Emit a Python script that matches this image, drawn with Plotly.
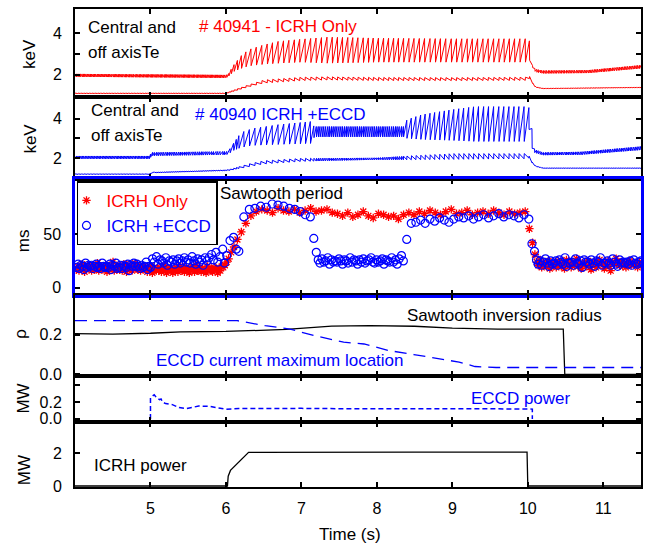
import numpy as np
import plotly.graph_objects as go
from plotly.subplots import make_subplots

FONT = "Liberation Sans, Arial, Helvetica, sans-serif"
RED = "#ff0000"
BLUE = "#0000ff"
BLACK = "#000000"

T_START = 4.0
X_RANGE = [4.0, 11.5]
TIME_TICKS = [5, 6, 7, 8, 9, 10, 11]

# ---- Sawtooth periods (ms) of consecutive crashes from T_START ----
# shot 40941 (ICRH only)
red_period_ms = [
    17, 20, 16, 19, 22, 18, 15, 19, 21, 18,
    19, 16, 21, 17, 18, 23, 16, 18, 20, 17,
    18, 21, 15, 19, 17, 20, 24, 16, 18, 17,
    20, 17, 18, 16, 22, 19, 15, 21, 18, 19,
    16, 19, 23, 18, 17, 20, 16, 19, 18, 19,
    18, 15, 17, 20, 16, 14, 19, 17, 16, 18,
    16, 19, 15, 17, 21, 16, 14, 18, 17, 17,
    17, 14, 18, 16, 19, 15, 17, 20, 16, 18,
    15, 18, 17, 16, 14, 19, 17, 18, 15, 21,
    16, 17, 19, 15, 18, 16, 17, 14, 20, 18,
    17, 16, 15, 19, 18, 17, 14, 18, 16, 20,
    19, 21, 24, 27, 33, 38, 45, 52, 60, 67,
    71, 73, 72, 70, 74, 72, 71, 73, 70, 72, 74, 71, 72, 73, 70,
    69, 67, 70, 66, 68, 71, 67, 65, 69, 68, 66, 67, 64, 68,
    70, 68, 71, 69, 72, 70, 68, 71, 73, 69, 70, 72, 68, 70, 71, 69, 72, 70, 68, 71, 69, 70,
    71, 55, 42, 31,
    24, 21, 26, 19, 23, 22, 20, 25, 18, 22,
    21, 23, 19, 25, 22, 20, 24, 18, 26, 22,
    22, 19, 24, 21, 27, 20, 23, 18, 22, 24,
    20, 25, 22, 17, 23, 24, 19, 21, 26, 23,
    23, 18, 22, 25, 20, 16, 24, 22, 27, 23,
    21, 24, 20, 23, 19, 22, 25, 21, 23, 22,
    22, 19, 24, 21,
]
# shot 40940 (ICRH + ECCD)
blue_period_ms = [
    19, 22, 18, 21, 20, 17, 23, 19, 21, 20,
    21, 18, 20, 22, 19, 20, 18, 23, 20, 19,
    20, 19, 22, 17, 21, 20, 23, 18, 19, 21,
    18, 21, 20, 19, 22, 16, 21, 20, 23, 20,
    22, 20, 18, 21, 19, 20, 24, 17, 20, 19,
    27, 24, 29, 22, 26, 25, 23, 28, 21, 25,
    24, 26, 22, 25, 27, 23, 25, 28, 24, 26,
    23, 29, 25, 22, 27, 24, 26, 21, 28, 25,
    28, 31, 26, 33, 24, 29, 36, 23,
    30, 44, 47, 36, 34, 66, 73,
    74, 76, 75, 78, 77, 76, 74, 73, 71, 68,
    66, 46, 33,
    26, 23, 27, 24, 25, 28, 22, 26, 24, 25,
    24, 27, 25, 22, 26, 25, 23, 28, 24, 26,
    25, 22, 26, 24, 27, 23, 25, 26, 28, 24,
    23, 26, 24, 25, 27, 22, 26, 25, 24, 28,
    24, 26, 22, 27, 30, 25,
    45, 60,
    61, 63, 60, 64, 62, 65, 63, 61, 64, 66, 65, 67, 64, 66, 68, 65, 67, 69, 66, 68, 67, 65, 68,
    64, 41, 34,
    26, 22, 25, 21, 24, 27, 23, 20, 25, 22,
    23, 25, 21, 26, 24, 22, 28, 20, 23, 23,
    24, 21, 27, 23, 22, 25, 19, 26, 24, 24,
    22, 26, 23, 20, 25, 24, 28, 21, 23, 23,
    25, 23, 21, 27, 24, 22, 20, 26, 23, 24,
    23, 24, 22, 25, 21, 26, 23, 22, 24, 25,
]

# ---- Te envelopes (keV): level just before a crash (peak) and just after (trough) ----
te41_core_t = [4.0, 6.0, 6.03, 6.1, 6.2, 6.3, 6.5, 6.7, 7.0, 7.35, 8.0, 9.0, 9.97, 10.02, 10.06, 10.1, 10.2, 10.8, 11.5]
te41_core_peak = [2.04, 1.99, 2.02, 2.45, 2.9, 3.2, 3.43, 3.6, 3.7, 3.8, 3.75, 3.72, 3.72, 3.65, 2.45, 2.27, 2.2, 2.22, 2.46]
te41_core_trough = [1.9, 1.85, 1.92, 2.15, 2.3, 2.42, 2.5, 2.55, 2.6, 2.55, 2.6, 2.6, 2.6, 2.7, 2.35, 2.13, 2.06, 2.08, 2.3]

te41_edge_t = [4.0, 6.0, 6.05, 6.3, 6.5, 7.0, 7.35, 8.0, 9.0, 9.97, 10.02, 10.06, 10.1, 10.2, 11.5]
te41_edge_low = [1.1, 1.1, 1.15, 1.42, 1.6, 1.72, 1.75, 1.72, 1.72, 1.73, 1.82, 1.6, 1.4, 1.33, 1.38]
te41_edge_high = [1.12, 1.12, 1.2, 1.52, 1.75, 1.88, 1.9, 1.87, 1.86, 1.88, 1.92, 1.62, 1.42, 1.35, 1.4]

te40_core_t = [4.0, 4.99, 5.01, 6.0, 6.03, 6.1, 6.2, 6.35, 6.7, 7.12, 7.17, 8.36, 8.4, 8.6, 9.0, 9.3, 9.96, 10.014, 10.055, 10.09, 10.2, 10.7, 11.5]
te40_core_peak = [2.12, 2.12, 2.3, 2.35, 2.35, 2.75, 3.3, 3.5, 3.7, 3.85, 3.6, 3.6, 3.95, 4.2, 4.45, 4.6, 4.6, 4.55, 3.5, 2.45, 2.3, 2.33, 2.6]
te40_core_trough = [1.98, 1.98, 2.13, 2.18, 2.22, 2.4, 2.55, 2.65, 2.7, 2.75, 3.08, 3.08, 3.0, 2.95, 2.9, 2.85, 2.85, 3.45, 2.5, 2.28, 2.16, 2.18, 2.42]

te40_edge_t = [4.0, 4.99, 5.01, 6.0, 6.05, 6.3, 6.5, 7.0, 8.0, 8.4, 9.0, 9.96, 10.02, 10.06, 10.1, 10.2, 11.5]
te40_edge_low = [1.2, 1.2, 1.27, 1.38, 1.4, 1.58, 1.72, 1.85, 1.93, 1.93, 1.95, 1.98, 2.02, 1.75, 1.6, 1.5, 1.5]
te40_edge_high = [1.22, 1.22, 1.3, 1.42, 1.45, 1.72, 1.88, 2.0, 2.03, 2.12, 2.24, 2.24, 2.1, 1.78, 1.62, 1.52, 1.52]

# ---- radial positions (rho) ----
inv_radius_t = [4.0, 4.5, 5.0, 5.4, 6.0, 6.8, 7.4, 7.9, 8.5, 9.0, 9.6, 10.47, 10.49, 11.5]
inv_radius = [0.205, 0.203, 0.207, 0.214, 0.216, 0.226, 0.243, 0.245, 0.242, 0.233, 0.228, 0.228, 0.0, 0.0]

eccd_loc_t = [4.0, 6.15, 6.52, 6.85, 7.17, 7.56, 7.83, 8.16, 8.49, 8.82, 9.09, 9.3, 9.58, 11.5]
eccd_loc = [0.27, 0.27, 0.245, 0.228, 0.195, 0.162, 0.153, 0.12, 0.10, 0.078, 0.062, 0.04, 0.035, 0.035]

# ---- powers (MW) ----
eccd_pow_t = [5.0, 5.0, 5.05, 5.08, 5.12, 5.14, 5.16, 5.2, 5.29, 5.38, 5.47, 5.56, 5.64, 5.78, 5.9, 6.0,
              6.17, 6.5, 7.0, 7.5, 8.0, 8.5, 9.0, 9.5, 10.06, 10.06]
eccd_pow = [0.0, 0.25, 0.285, 0.25, 0.227, 0.235, 0.198, 0.18, 0.168, 0.133, 0.121, 0.14, 0.151, 0.148, 0.133, 0.113,
            0.121, 0.125, 0.124, 0.12, 0.122, 0.121, 0.12, 0.119, 0.115, 0.0]

icrh_t = [4.0, 6.02, 6.03, 6.06, 6.3, 7.3, 7.35, 8.5, 9.99, 10.0, 11.5]
icrh_pow = [0.0, 0.0, 0.6, 0.95, 2.05, 2.06, 2.09, 2.06, 2.06, 0.0, 0.0]


# ---------------- helpers ----------------
def crash_times(periods_ms):
    return T_START + np.cumsum(periods_ms) / 1000.0


def sawtooth_trace(crashes, env_t, lo_env, hi_env, inverted=False, dt=0.003):
    """Polyline: linear ramp between crashes, near-vertical jump at each crash."""
    crashes = crashes[(crashes > X_RANGE[0]) & (crashes < X_RANGE[1])]
    lo = np.interp(crashes, env_t, lo_env)
    hi = np.interp(crashes, env_t, hi_env)
    xs = [X_RANGE[0]]
    ys = [np.interp(X_RANGE[0], env_t, hi_env if inverted else lo_env)]
    for t, a, b in zip(crashes, lo, hi):
        xs += [t, t + dt]
        ys += ([a, b] if inverted else [b, a])
    xs.append(X_RANGE[1])
    ys.append(np.interp(X_RANGE[1], env_t, lo_env if inverted else hi_env))
    return xs, ys


red_crash = crash_times(red_period_ms)
blue_crash = crash_times(blue_period_ms)

# ---------------- figure ----------------
W, H = 651, 548
L, R, TOP, BOT = 75, 8, 7, 61
PW, PH = W - L - R, H - TOP - BOT
edges = [7, 95, 178, 294, 376, 422, 487]  # panel borders in pixels


def fx(px):
    return (px - L) / PW


def fy(py):
    return (H - BOT - py) / PH


fig = make_subplots(rows=6, cols=1, shared_xaxes=True, vertical_spacing=0)

# Panel 1: shot 40941 Te
x, y = sawtooth_trace(red_crash, te41_core_t, te41_core_trough, te41_core_peak)
fig.add_trace(go.Scatter(x=x, y=y, mode="lines", line=dict(color=RED, width=1), showlegend=False), row=1, col=1)
x, y = sawtooth_trace(red_crash, te41_edge_t, te41_edge_low, te41_edge_high, inverted=True)
fig.add_trace(go.Scatter(x=x, y=y, mode="lines", line=dict(color=RED, width=1), showlegend=False), row=1, col=1)

# Panel 2: shot 40940 Te
x, y = sawtooth_trace(blue_crash, te40_core_t, te40_core_trough, te40_core_peak)
fig.add_trace(go.Scatter(x=x, y=y, mode="lines", line=dict(color=BLUE, width=1), showlegend=False), row=2, col=1)
x, y = sawtooth_trace(blue_crash, te40_edge_t, te40_edge_low, te40_edge_high, inverted=True)
fig.add_trace(go.Scatter(x=x, y=y, mode="lines", line=dict(color=BLUE, width=1), showlegend=False), row=2, col=1)

# Panel 3: sawtooth period
fig.add_trace(go.Scatter(x=red_crash, y=red_period_ms, mode="markers",
                         name="<span style='color:#ff0000'>ICRH Only</span>",
                         marker=dict(symbol="asterisk-open", size=7, color=RED, line=dict(color=RED, width=1.3))),
              row=3, col=1)
fig.add_trace(go.Scatter(x=blue_crash, y=blue_period_ms, mode="markers",
                         name="<span style='color:#0000ff'>ICRH +ECCD</span>",
                         marker=dict(symbol="circle-open", size=8, color=BLUE, line=dict(color=BLUE, width=1.2))),
              row=3, col=1)

# Panel 4: rho
fig.add_trace(go.Scatter(x=inv_radius_t, y=inv_radius, mode="lines", line=dict(color=BLACK, width=1.3),
                         showlegend=False), row=4, col=1)
fig.add_trace(go.Scatter(x=eccd_loc_t, y=eccd_loc, mode="lines", line=dict(color=BLUE, width=1.3, dash="12px,7px"),
                         showlegend=False), row=4, col=1)

# Panel 5: ECCD power
fig.add_trace(go.Scatter(x=eccd_pow_t, y=eccd_pow, mode="lines", line=dict(color=BLUE, width=1.5, dash="5px,3px"),
                         showlegend=False), row=5, col=1)

# Panel 6: ICRH power
fig.add_trace(go.Scatter(x=icrh_t, y=icrh_pow, mode="lines", line=dict(color=BLACK, width=1.3),
                         showlegend=False), row=6, col=1)

y_specs = [
    dict(range=[0.952, 5.143], tickvals=[1, 2, 3, 4], ticktext=["", "2", "", "4"]),
    dict(range=[0.95, 5.1], tickvals=[1, 2, 3, 4], ticktext=["", "2", "", "4"]),
    dict(range=[-6.5, 101], tickvals=[0, 50], ticktext=["0", "50"]),
    dict(range=[-0.01, 0.40], tickvals=[0, 0.2], ticktext=["0.0", "0.2"]),
    dict(range=[-0.04, 0.50], tickvals=[0, 0.2, 0.4], ticktext=["0.0", "0.2", ""]),
    dict(range=[-0.06, 3.88], tickvals=[0, 2], ticktext=["0", "2"]),
]

for i in range(6):
    r = i + 1
    lc = BLUE if r == 3 else BLACK
    lw = 2.5 if r == 3 else 2
    fig.update_yaxes(row=r, col=1, domain=[fy(edges[i + 1]), fy(edges[i])],
                     range=y_specs[i]["range"], tickvals=y_specs[i]["tickvals"], ticktext=y_specs[i]["ticktext"],
                     showline=True, linecolor=lc, linewidth=lw, mirror="allticks",
                     ticks="inside", ticklen=5, tickwidth=1.5, tickcolor=BLACK,
                     showgrid=False, zeroline=False, ticklabelstandoff=8,
                     tickfont=dict(family=FONT, size=16, color=BLACK))
    fig.update_xaxes(row=r, col=1, range=X_RANGE, tickvals=TIME_TICKS,
                     showline=True, linecolor=lc, linewidth=lw, mirror="allticks",
                     ticks="inside", ticklen=5, tickwidth=1.5, tickcolor=BLACK,
                     showgrid=False, zeroline=False, showticklabels=(r == 6),
                     tickfont=dict(family=FONT, size=16, color=BLACK))
fig.update_xaxes(row=6, col=1, ticklabelstandoff=6)

annotations = []


def txt(text, px, py, color=BLACK, size=17, anchor="left", angle=0):
    annotations.append(dict(text=text, x=fx(px), y=fy(py), xref="paper", yref="paper",
                            xanchor=anchor, yanchor="middle", showarrow=False, textangle=angle,
                            font=dict(family=FONT, size=size, color=color)))


txt("Central and", 86, 26)
txt("off axisTe", 86, 51)
txt("# 40941 - ICRH Only", 197, 25, RED)
txt("Central and", 89, 109)
txt("off axisTe", 89, 134)
txt("# 40940 ICRH +ECCD", 193, 113, BLUE)
txt("Sawtooth period", 219, 192)
txt("Sawtooth inversion radius", 406, 315)
txt("ECCD current maximum location", 154, 360, BLUE)
txt("ECCD power", 470, 398, BLUE)
txt("ICRH power", 92, 465)
txt("Time (s)", 351, 535, anchor="center")
txt("keV", 30, 52, anchor="center", angle=-90)
txt("keV", 30, 137, anchor="center", angle=-90)
txt("ms", 23, 240, anchor="center", angle=-90)
txt("ρ", 20, 333, anchor="center", angle=-90)
txt("MW", 23, 398, anchor="center", angle=-90)
txt("MW", 24, 470, anchor="center", angle=-90)

fig.update_layout(
    width=W, height=H,
    margin=dict(l=L, r=R, t=TOP, b=BOT),
    paper_bgcolor="white", plot_bgcolor="white",
    font=dict(family=FONT, size=16, color=BLACK),
    annotations=annotations,
    showlegend=True,
    legend=dict(x=fx(77), y=fy(180), xanchor="left", yanchor="top", bgcolor="white",
                bordercolor=BLACK, borderwidth=1.5, font=dict(family=FONT, size=17),
                tracegroupgap=0, itemwidth=30, indentation=-12),
)

fig.write_html("out.html", config={"displayModeBar": False},
               post_script="document.body.style.margin='0px';")
